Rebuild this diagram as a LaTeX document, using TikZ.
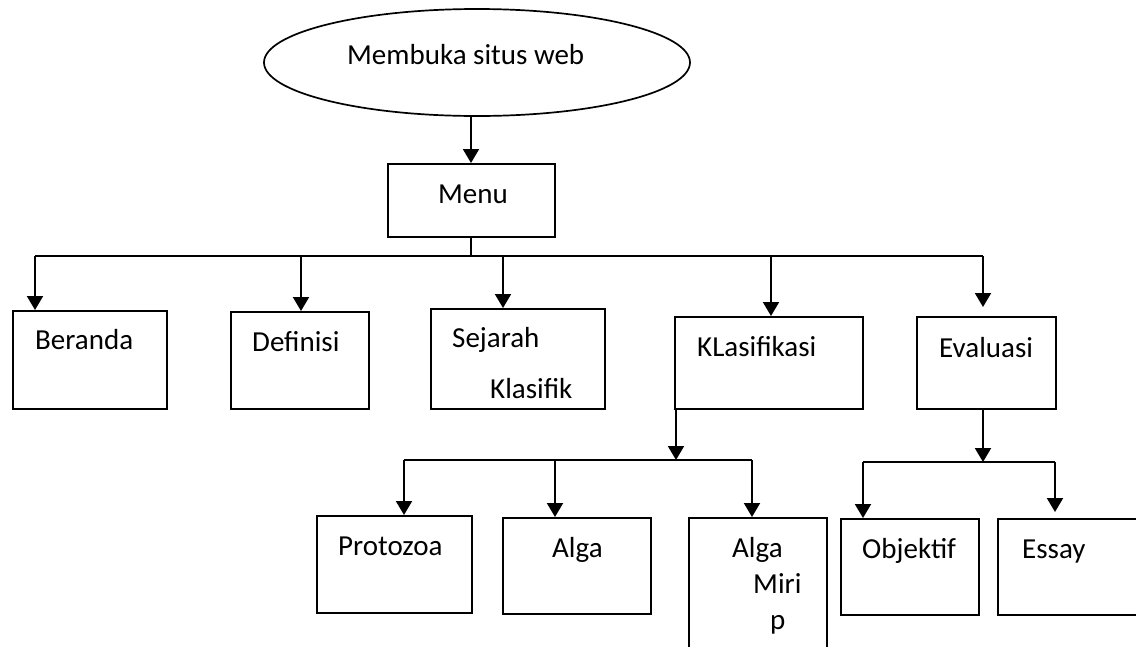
\documentclass[tikz,border=0pt]{standalone}
\usepackage{fontspec}
\setmainfont{Carlito}
\usetikzlibrary{arrows.meta,shapes.geometric,calc}
\tikzset{
  box/.style={draw=black, line width=2pt, rectangle, inner sep=0pt},
  oval/.style={draw=black, line width=1.7pt, ellipse, inner sep=0pt},
  lbl/.style={inner sep=0pt, anchor=base west, font=\fontsize{29}{35}\selectfont},
  conn/.style={draw=black, line width=2pt},
  arr/.style={conn, -{Triangle[width=16pt,length=14pt]}}
}
\begin{document}
\begin{tikzpicture}[x=1pt,y=-1pt]
\clip (0,0) rectangle (1136,646);
\fill[white] (0,0) rectangle (1136,646);
% shapes
\node[oval, minimum width=426pt, minimum height=107pt] (start) at (477,62.5) {};
\node[box, minimum width=167pt, minimum height=73pt] (menu) at (471.5,200.5) {};
\node[box, minimum width=154pt, minimum height=98pt] (beranda) at (90,360) {};
\node[box, minimum width=138pt, minimum height=97pt] (definisi) at (300,360.5) {};
\node[box, minimum width=174pt, minimum height=100pt] (sejarah) at (518,359) {};
\node[box, minimum width=188pt, minimum height=92pt] (klasifikasi) at (769,363) {};
\node[box, minimum width=139pt, minimum height=92pt] (evaluasi) at (986.5,363) {};
\node[box, minimum width=155pt, minimum height=97pt] (protozoa) at (394.5,564.5) {};
\node[box, minimum width=148pt, minimum height=96pt] (alga) at (577,566) {};
\node[box, minimum width=138pt, minimum height=152pt] (algamirip) at (758,594) {};
\node[box, minimum width=138pt, minimum height=96pt] (objektif) at (910,567) {};
\node[box, minimum width=152pt, minimum height=96pt] (essay) at (1074,567) {};
% texts
\node[lbl] (tstart) at (347,64) {Membuka situs web};
\node[lbl] (tmenu) at (438,203) {Menu};
\node[lbl] (tberanda) at (35,349) {Beranda};
\node[lbl] (tdefinisi) at (252,351) {Definisi};
\node[lbl] (tsejarah) at (452,347) {Sejarah};
\node[lbl] (tsejarah2) at (490,398) {Klasifik};
\node[lbl] (tklas) at (697,356) {KLasifikasi};
\node[lbl] (teval) at (939,357) {Evaluasi};
\node[lbl] (tproto) at (338,555) {Protozoa};
\node[lbl] (talga) at (552,557) {Alga};
\node[lbl] (tam1) at (732,557) {Alga};
\node[lbl] (tam2) at (753,593) {Miri};
\node[lbl] (tam3) at (770,629) {p};
\node[lbl] (tobj) at (862,558) {Objektif};
\node[lbl] (tessay) at (1022,558) {Essay};
% connectors level 0
\coordinate (m0) at (471,0);
\draw[arr] (m0 |- start.south) -- (m0 |- menu.north);
% bus level 1
\coordinate (bL) at (35,256);
\coordinate (bR) at (983,256);
\coordinate (bD) at (301,256);
\coordinate (bS) at (503,256);
\coordinate (bK) at (771,256);
\draw[conn] (m0 |- menu.south) -- (m0 |- bL);
\draw[conn] (bL) -- (bR);
\draw[arr] (bL) -- (bL |- beranda.north);
\draw[arr] (bD) -- (bD |- definisi.north);
\draw[arr] (bS) -- (bS |- sejarah.north);
\draw[arr] (bK) -- (bK |- klasifikasi.north);
\draw[arr] (bR) -- ($(bR |- evaluasi.north)+(0,-9)$);
% klasifikasi children
\coordinate (k0) at ($(klasifikasi.south west)+(2,0)$);
\coordinate (kL) at (404,460);
\coordinate (kA) at (555,460);
\coordinate (kR) at (752,460);
\draw[arr] (k0) -- (k0 |- kL);
\draw[conn] (kL) -- (kR);
\draw[arr] (kL) -- (kL |- protozoa.north);
\draw[arr] (kA) -- (kA |- alga.north);
\draw[arr] (kR) -- (kR |- algamirip.north);
% evaluasi children
\coordinate (e0) at (983,409);
\coordinate (eL) at (863,462);
\coordinate (eR) at (1055,462);
\draw[arr] (e0) -- (e0 |- eL);
\draw[conn] (eL) -- (eR);
\draw[arr] (eL) -- (eL |- objektif.north);
\draw[arr] (eR) -- ($(eR |- essay.north)+(0,-6)$);
\end{tikzpicture}
\end{document}
